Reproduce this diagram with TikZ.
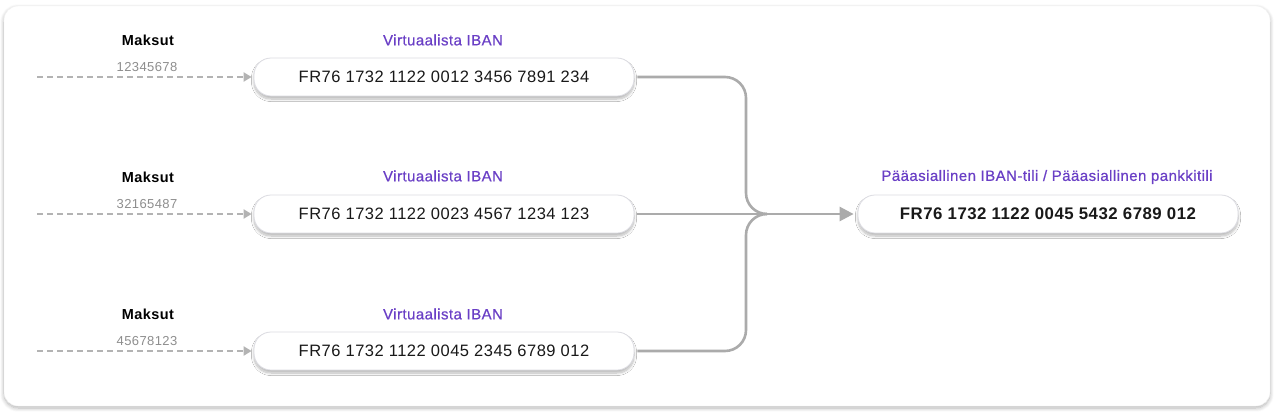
\documentclass[tikz,border=0pt]{standalone}
\usepackage{fontspec}
\setmainfont{Liberation Sans}[LetterSpace=3]
\newfontfamily\medfont{Liberation Sans}[LetterSpace=3,FakeBold=0.6]
\usetikzlibrary{arrows.meta,shadows.blur,positioning}
\definecolor{purp}{HTML}{6A3FC6}
\definecolor{lgray}{HTML}{ABABAB}
\definecolor{dgray}{HTML}{B3B3B3}
\definecolor{numgray}{HTML}{8E8E8E}
\definecolor{bord}{HTML}{DCDCE2}
\begin{document}
\begin{tikzpicture}[x=1pt,y=-1pt,
  card/.style={fill=white,draw=black!6,rounded corners=14pt,
    blur shadow={shadow blur steps=8,shadow xshift=0pt,shadow yshift=-2pt,shadow opacity=30,shadow blur radius=4pt}},
  ibox/.style={draw=bord,line width=0.8pt,fill=white,rounded corners=17pt,minimum width=380pt,minimum height=38pt,
    inner sep=0pt,font=\fontsize{16.5}{18}\selectfont,text=black!90,
    blur shadow={shadow blur steps=10,shadow xshift=0pt,shadow yshift=-3pt,shadow opacity=28,shadow blur radius=2.5pt}},
  mlab/.style={font=\bfseries\fontsize{14.5}{16}\selectfont,text=black,inner sep=0pt},
  nlab/.style={font=\fontsize{13}{14}\selectfont,text=numgray,inner sep=0pt},
  vlab/.style={font=\medfont\fontsize{15}{16}\selectfont,text=purp,inner sep=0pt},
  dashline/.style={draw=dgray,line width=2pt,dash pattern=on 6pt off 4pt,-{Triangle[length=8pt,width=9pt]},shorten >=2pt},
  conn/.style={draw=lgray,line width=2.6pt,rounded corners=21pt,shorten <=3pt}
]
\useasboundingbox (0,0) rectangle (1274,415);
\path[card] (4,6) rectangle (1270,406);

% row 1
\node[mlab] (m1) at (148,40) {Maksut};
\node[nlab] (n1) at (147,67) {12345678};
\node[vlab] (v1) at (443,40) {Virtuaalista IBAN};
\node[ibox] (b1) at (444,77) {FR76 1732 1122 0012 3456 7891 234};
\coordinate (s1) at (37,77);
% row 2
\node[mlab] (m2) at (148,177) {Maksut};
\node[nlab] (n2) at (147,204) {32165487};
\node[vlab] (v2) at (443,176) {Virtuaalista IBAN};
\node[ibox] (b2) at (444,214) {FR76 1732 1122 0023 4567 1234 123};
\coordinate (s2) at (37,214);
% row 3
\node[mlab] (m3) at (148,314) {Maksut};
\node[nlab] (n3) at (147,341) {45678123};
\node[vlab] (v3) at (443,314) {Virtuaalista IBAN};
\node[ibox] (b3) at (444,351) {FR76 1732 1122 0045 2345 6789 012};
\coordinate (s3) at (37,351);
% main
\node[vlab] (mt) at (1047,177) {Pääasiallinen IBAN-tili / Pääasiallinen pankkitili};
\node[ibox,font=\bfseries\fontsize{16.8}{18}\selectfont] (mb) at (1048,214) {FR76 1732 1122 0045 5432 6789 012};

\coordinate (jx) at (746,214);
\coordinate (j) at (767,214);

\draw[dashline] (s1) -- (b1.west);
\draw[dashline] (s2) -- (b2.west);
\draw[dashline] (s3) -- (b3.west);

\draw[conn] (b1.east) -| (jx) -- (j);
\draw[conn] (b3.east) -| (jx) -- (j);
\draw[conn,-{Triangle[length=14pt,width=14pt]},shorten >=4pt] (b2.east) -- (mb.west);
\end{tikzpicture}
\end{document}
